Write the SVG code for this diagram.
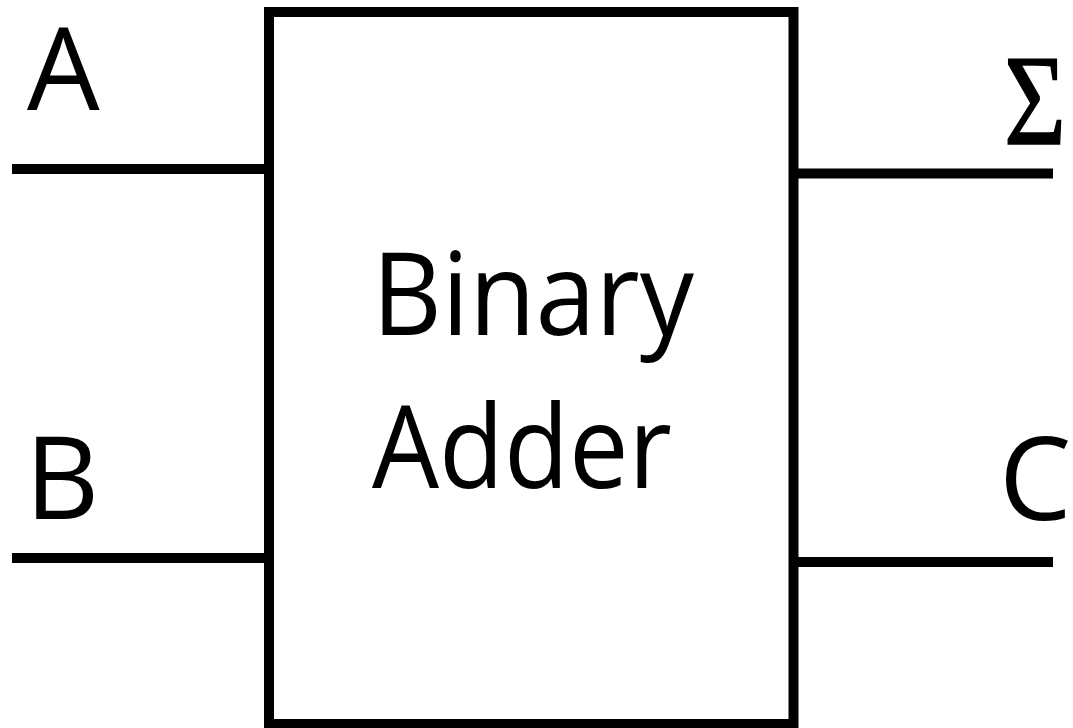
<svg xmlns="http://www.w3.org/2000/svg" width="1073" height="728" viewBox="0 0 1073 728">
<style>
.t{font-family:"Open Sans","Liberation Sans",sans-serif;font-size:115px;fill:#000}
.s{font-family:"Liberation Serif","DejaVu Serif",serif;font-size:130px;fill:#000;stroke:#000;stroke-width:1.5}
.w{stroke:#000;stroke-width:10;fill:none}
</style>
<rect width="1073" height="728" fill="#fff"/>
<g id="connectors">
<line class="w" x1="12" y1="169" x2="269" y2="169"/>
<line class="w" x1="12" y1="558" x2="269" y2="558"/>
<line class="w" x1="793" y1="173.5" x2="1053" y2="173.5"/>
<line class="w" x1="793" y1="562" x2="1053" y2="562"/>
</g>
<g id="adder">
<rect class="w" x="269" y="12" width="524.5" height="712"/>
<text class="t" x="372" y="335" textLength="322" lengthAdjust="spacingAndGlyphs">Binary</text>
<text class="t" x="372" y="488" textLength="300" lengthAdjust="spacingAndGlyphs">Adder</text>
</g>
<g id="labels">
<text class="t" x="27" y="110">A</text>
<text class="t" x="25" y="519">B</text>
<text class="t" x="999" y="520">C</text>
<text class="s" x="1004" y="144" textLength="62" lengthAdjust="spacingAndGlyphs">Σ</text>
</g>
</svg>
